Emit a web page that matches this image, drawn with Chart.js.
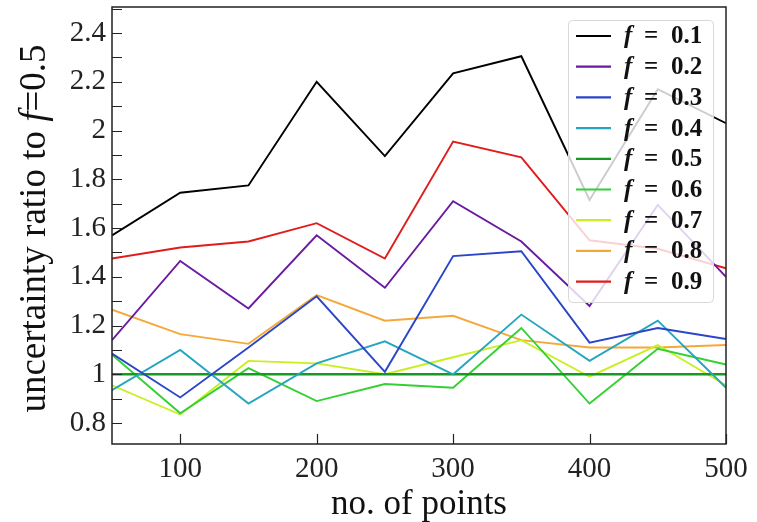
<!DOCTYPE html>
<html>
<head>
<meta charset="utf-8">
<script src="https://cdn.jsdelivr.net/npm/chart.js@4.4.1/dist/chart.umd.min.js"></script>
<style>
  html, body { margin: 0; padding: 0; background: #fff; }
  #wrap { width: 757px; height: 522px; }
</style>
</head>
<body>
<div id="wrap"><canvas id="ratioChart" width="757" height="522"></canvas></div>
<script>
// data
const nPoints = [50, 100, 150, 200, 250, 300, 350, 400, 450, 500];
const fLabels = ['0.1', '0.2', '0.3', '0.4', '0.5', '0.6', '0.7', '0.8', '0.9'];
const ratio01 = [1.57, 1.745, 1.775, 2.20, 1.895, 2.235, 2.305, 1.715, 2.17, 2.03];
const ratio02 = [1.14, 1.465, 1.27, 1.57, 1.355, 1.71, 1.545, 1.28, 1.695, 1.40];
const ratio03 = [1.085, 0.905, 1.11, 1.32, 1.01, 1.485, 1.505, 1.13, 1.19, 1.145];
const ratio04 = [0.935, 1.10, 0.88, 1.045, 1.135, 1.00, 1.245, 1.055, 1.22, 0.945];
const ratio05 = [1, 1, 1, 1, 1, 1, 1, 1, 1, 1];
const ratio06 = [1.08, 0.84, 1.025, 0.89, 0.96, 0.945, 1.19, 0.88, 1.105, 1.04];
const ratio07 = [0.955, 0.835, 1.055, 1.045, 1.0, 1.07, 1.14, 0.99, 1.12, 0.955];
const ratio08 = [1.265, 1.165, 1.125, 1.325, 1.22, 1.24, 1.14, 1.11, 1.11, 1.12];
const ratio09 = [1.475, 1.52, 1.545, 1.62, 1.475, 1.955, 1.89, 1.55, 1.515, 1.435];
const xTicks = [100, 200, 300, 400, 500];
const yTickLabels = [0.8, 1, 1.2, 1.4, 1.6, 1.8, 2, 2.2, 2.4];
const yMinorTicks = [0.8, 0.9, 1, 1.1, 1.2, 1.3, 1.4, 1.5, 1.6, 1.7, 1.8, 1.9, 2, 2.1, 2.2, 2.3, 2.4, 2.5];

const allSeries = [ratio01, ratio02, ratio03, ratio04, ratio05, ratio06, ratio07, ratio08, ratio09];
const colors = ['#000000', '#6a1aa0', '#2a45c8', '#26a5c0', '#159a22', '#32d032', '#c8f020', '#f5a83a', '#e01c1c'];

const datasets = allSeries.map((s, i) => ({
    label: 'f = ' + fLabels[i],
    data: s.map((v, j) => ({ x: nPoints[j], y: v })),
    borderColor: colors[i],
    backgroundColor: colors[i],
    borderWidth: i === 4 ? 2.5 : 1.9,
    pointRadius: 0,
    tension: 0,
    fill: false
}));

const SERIF = '"Liberation Serif", "Times New Roman", serif';

// inward ticks + frame, legend and y title
const decorPlugin = {
    id: 'decor',
    afterDatasetsDraw(chart) {
        const c = chart.ctx;
        const a = chart.chartArea;
        const xs = chart.scales.x, ys = chart.scales.y;
        c.save();
        c.strokeStyle = '#222';
        c.lineWidth = 1.2;
        c.beginPath();
        yMinorTicks.forEach(v => {
            const y = Math.round(ys.getPixelForValue(v)) + 0.5;
            c.moveTo(a.left, y); c.lineTo(a.left + 10, y);
        });
        xTicks.forEach(v => {
            const x = Math.round(xs.getPixelForValue(v)) + 0.5;
            c.moveTo(x, a.bottom); c.lineTo(x, a.bottom - 10);
        });
        c.stroke();
        c.lineWidth = 1.5;
        c.strokeRect(a.left, a.top, a.right - a.left, a.bottom - a.top);

        // legend
        const lx = a.right - 158, ly = a.top + 13, lw = 145, lh = 282;
        c.fillStyle = 'rgba(255,255,255,0.8)';
        c.strokeStyle = '#d8d8d8';
        c.lineWidth = 1;
        c.beginPath();
        c.roundRect(lx + 0.5, ly + 0.5, lw, lh, 4);
        c.fill();
        c.stroke();
        datasets.forEach((d, i) => {
            const y = ly + 16 + i * 30.7;
            c.strokeStyle = d.borderColor;
            c.lineWidth = 2.2;
            c.beginPath();
            c.moveTo(lx + 8, y); c.lineTo(lx + 43, y);
            c.stroke();
            c.fillStyle = '#111';
            c.textBaseline = 'middle';
            c.textAlign = 'left';
            c.font = 'italic bold 25px ' + SERIF;
            c.fillText('f', lx + 56, y + 1);
            c.font = 'bold 25px ' + SERIF;
            c.fillText('=', lx + 76, y + 1);
            c.fillText(fLabels[i], lx + 103, y + 1);
        });

        // y title with italic f
        const parts = [
            ['uncertainty ratio to ', '37px ' + SERIF],
            ['f', 'italic 37px ' + SERIF],
            ['=0.5', '37px ' + SERIF]
        ];
        let total = 0;
        parts.forEach(p => { c.font = p[1]; total += c.measureText(p[0]).width; });
        c.translate(35, (a.top + a.bottom) / 2 + 3);
        c.rotate(-Math.PI / 2);
        c.fillStyle = '#111';
        c.textBaseline = 'middle';
        c.textAlign = 'left';
        let px = -total / 2;
        parts.forEach(p => {
            c.font = p[1];
            c.fillText(p[0], px, 0);
            px += c.measureText(p[0]).width;
        });
        c.restore();
    }
};

const ctx = document.getElementById('ratioChart').getContext('2d');
const ratioChart = new Chart(ctx, {
    type: 'line',
    data: { datasets: datasets },
    options: {
        responsive: false,
        animation: false,
        layout: { padding: { top: 7, right: 31, left: 0, bottom: 0 } },
        scales: {
            x: {
                type: 'linear',
                min: 50,
                max: 500,
                afterBuildTicks: s => { s.ticks = xTicks.map(v => ({ value: v })); },
                afterFit: s => { s.height = 78; s.paddingLeft = 0; s.paddingRight = 0; },
                grid: { display: false, drawTicks: false },
                border: { display: false },
                ticks: {
                    color: '#222',
                    padding: 8,
                    maxRotation: 0,
                    font: { family: SERIF, size: 29 },
                    callback: v => String(v)
                },
                title: {
                    display: true,
                    text: 'no. of points',
                    color: '#111',
                    padding: { top: 0, bottom: 0 },
                    font: { family: SERIF, size: 35, lineHeight: 1 }
                }
            },
            y: {
                type: 'linear',
                min: 0.714,
                max: 2.507,
                afterBuildTicks: s => { s.ticks = yTickLabels.map(v => ({ value: v })); },
                afterFit: s => { s.width = 112; s.paddingTop = 0; s.paddingBottom = 0; },
                grid: { display: false, drawTicks: false },
                border: { display: false },
                ticks: {
                    color: '#222',
                    padding: 6,
                    font: { family: SERIF, size: 29 },
                    callback: v => String(Math.round(v * 10) / 10)
                }
            }
        },
        plugins: {
            legend: { display: false },
            tooltip: { enabled: false }
        }
    },
    plugins: [decorPlugin]
});
</script>
</body>
</html>
